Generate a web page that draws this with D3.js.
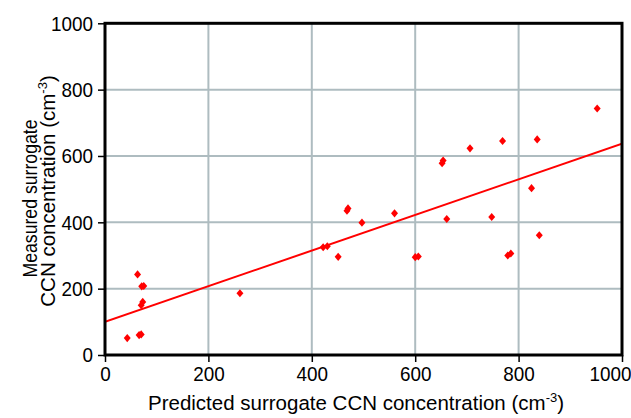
<!DOCTYPE html>
<html><head><meta charset="utf-8">
<script src="https://cdn.jsdelivr.net/npm/d3@7"></script>
<style>body{margin:0;background:#fff}svg{display:block}text{font-family:"Liberation Sans",Arial,sans-serif;fill:#000}</style>
</head><body><svg id="c" width="631" height="418"></svg>
<script>
const predicted = [43, 63, 66, 70, 71, 75, 70, 73, 261, 422, 430, 451, 468, 470, 497, 560, 600, 606, 652, 654, 661, 706, 748, 769, 779, 785, 825, 836, 840, 952];
const measured  = [51, 243, 60, 62, 207, 208, 150, 160, 186, 325, 328, 296, 435, 442, 399, 427, 295, 297, 578, 586, 410, 623, 416, 645, 300, 306, 503, 650, 361, 743];
const fitX = [0, 1000];
const fitY = [100, 637];
const xTicks = [0, 200, 400, 600, 800, 1000];
const yTicks = [0, 200, 400, 600, 800, 1000];

const svg = d3.select("#c");
const L = 105, R = 622, T = 23.3, B = 355;
const x = d3.scaleLinear().domain([0, 1000]).range([L, R]);
const y = d3.scaleLinear().domain([0, 1000]).range([B, T]);

// grid
svg.append("g").selectAll("line").data(xTicks.slice(1, -1)).join("line")
  .attr("x1", d => x(d)).attr("x2", d => x(d)).attr("y1", T).attr("y2", B)
  .attr("stroke", "#aebcc0").attr("stroke-width", 2);
svg.append("g").selectAll("line").data(yTicks.slice(1, -1)).join("line")
  .attr("y1", d => y(d)).attr("y2", d => y(d)).attr("x1", L).attr("x2", R)
  .attr("stroke", "#aebcc0").attr("stroke-width", 2);

// axes
const fmt = d3.format("d");
const SX = 0.9;
const xAxis = svg.append("g").attr("transform", `translate(0,${B})`)
  .call(d3.axisBottom(x).tickValues(xTicks).tickFormat(fmt).tickSize(7).tickPadding(4));
const yAxis = svg.append("g").attr("transform", `translate(${L},0)`)
  .call(d3.axisLeft(y).tickValues(yTicks).tickFormat(fmt).tickSize(7).tickPadding(5));
[xAxis, yAxis].forEach(a => {
  a.select(".domain").remove();
  a.selectAll(".tick line").attr("stroke", "#000").attr("stroke-width", 1.5);
  a.selectAll(".tick text").attr("font-size", 21)
    .attr("font-family", "'Liberation Sans', Arial, sans-serif").attr("fill", "#000");
});
// horizontally condensed tick labels
yAxis.selectAll(".tick text").attr("x", -12 / SX).attr("transform", `scale(${SX},1)`);
xAxis.selectAll(".tick text").attr("transform", `scale(${SX},1)`);
xAxis.selectAll(".tick text").filter(d => d === 1000).attr("text-anchor", "end").attr("x", 9 / SX);

// clip
svg.append("clipPath").attr("id", "clip").append("rect")
  .attr("x", L).attr("y", T).attr("width", R - L).attr("height", B - T);

// fit line
svg.append("line").attr("clip-path", "url(#clip)")
  .attr("x1", x(fitX[0])).attr("y1", y(fitY[0])).attr("x2", x(fitX[1])).attr("y2", y(fitY[1]))
  .attr("stroke", "#ff0000").attr("stroke-width", 2);

// points
const sym = d3.symbol(d3.symbolSquare, 30);
svg.append("g").selectAll("path").data(predicted.map((p, i) => [p, measured[i]])).join("path")
  .attr("d", sym)
  .attr("transform", d => `translate(${x(d[0])},${y(d[1])}) scale(0.9,1.05) rotate(45)`)
  .attr("fill", "#ff0000");

// frame
svg.append("rect").attr("x", L).attr("y", T).attr("width", R - L).attr("height", B - T)
  .attr("fill", "none").attr("stroke", "#000").attr("stroke-width", 3);

// titles
const xt = svg.append("text").attr("x", 356).attr("y", 410).attr("text-anchor", "middle").attr("font-size", 20.5);
xt.append("tspan").text("Predicted surrogate CCN concentration (cm");
xt.append("tspan").attr("font-size", 13).attr("dy", -8).text("-3");
xt.append("tspan").attr("dy", 8).text(")");

const yt = svg.append("g").attr("transform", "rotate(-90)");
yt.append("text").attr("x", -198.5).attr("y", 37).attr("text-anchor", "middle").attr("font-size", 20.5)
  .attr("textLength", 158).attr("lengthAdjust", "spacingAndGlyphs").text("Measured surrogate");
const yt2 = yt.append("text").attr("x", -191).attr("y", 55).attr("text-anchor", "middle").attr("font-size", 20.5);
yt2.append("tspan").text("CCN concentration (cm");
yt2.append("tspan").attr("font-size", 13).attr("dy", -8).text("-3");
yt2.append("tspan").attr("dy", 8).text(")");
</script></body></html>
